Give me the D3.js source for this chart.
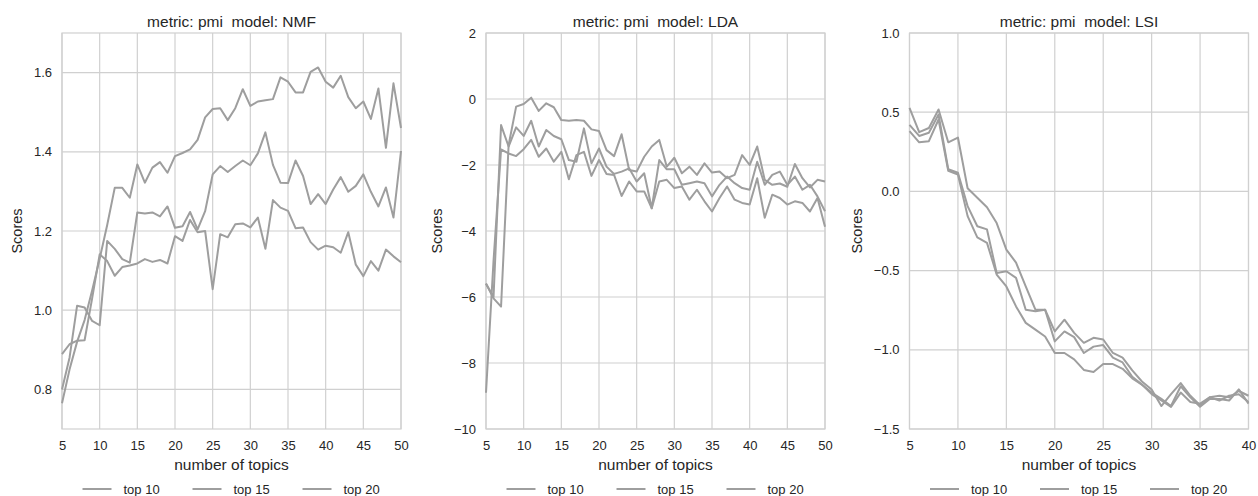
<!DOCTYPE html>
<html><head><meta charset="utf-8">
<script src="https://cdn.jsdelivr.net/npm/d3@7"></script>
<style>
body{margin:0;background:#fff}
svg{display:block}
text{font-family:"Liberation Sans",Arial,sans-serif;fill:#262626}
</style>
</head><body>
<svg id="chart" width="1258" height="496"></svg>
<script>
// ---------- data ----------
const topics50 = [5,6,7,8,9,10,11,12,13,14,15,16,17,18,19,20,21,22,23,24,25,26,27,28,29,30,31,32,33,34,35,36,37,38,39,40,41,42,43,44,45,46,47,48,49,50];
const topics40 = [5,6,7,8,9,10,11,12,13,14,15,16,17,18,19,20,21,22,23,24,25,26,27,28,29,30,31,32,33,34,35,36,37,38,39,40];
const seriesNames = ["top 10", "top 15", "top 20"];

const nmfTop10 = [0.765,0.85,0.92,0.975,1.05,1.13,1.215,1.309,1.309,1.284,1.368,1.322,1.36,1.374,1.347,1.389,1.397,1.406,1.43,1.487,1.508,1.51,1.48,1.51,1.558,1.516,1.527,1.53,1.533,1.588,1.577,1.55,1.55,1.602,1.613,1.577,1.562,1.592,1.538,1.51,1.527,1.483,1.56,1.41,1.573,1.46];
const nmfTop15 = [0.80,0.88,1.011,1.007,0.973,0.962,1.175,1.155,1.129,1.12,1.247,1.244,1.247,1.237,1.262,1.208,1.212,1.248,1.204,1.25,1.343,1.364,1.349,1.364,1.378,1.366,1.396,1.449,1.367,1.322,1.321,1.378,1.339,1.268,1.293,1.268,1.305,1.336,1.299,1.314,1.343,1.299,1.262,1.31,1.234,1.402];
const nmfTop20 = [0.889,0.914,0.923,0.924,1.03,1.141,1.124,1.087,1.109,1.113,1.118,1.129,1.122,1.127,1.118,1.187,1.175,1.228,1.197,1.2,1.053,1.192,1.184,1.217,1.219,1.209,1.234,1.155,1.278,1.259,1.251,1.207,1.209,1.172,1.153,1.163,1.159,1.145,1.197,1.115,1.086,1.124,1.1,1.153,1.136,1.121];

const ldaTop10 = [-5.59,-6.04,-6.29,-1.4,-0.23,-0.15,0.04,-0.36,-0.13,-0.25,-0.64,-0.66,-0.64,-0.66,-0.92,-0.97,-1.55,-1.73,-1.07,-2.15,-2.2,-1.75,-1.44,-1.24,-2.05,-1.78,-2.25,-2.05,-2.3,-1.95,-2.23,-2.2,-2.4,-2.3,-1.7,-2.0,-1.44,-2.45,-2.6,-2.56,-2.66,-1.97,-2.4,-2.68,-2.45,-2.5];
const ldaTop15 = [-5.6,-6.0,-0.79,-1.44,-0.86,-1.12,-0.66,-1.44,-0.94,-1.12,-1.22,-1.85,-1.9,-0.89,-1.95,-1.5,-2.05,-2.27,-2.2,-2.1,-2.5,-2.25,-3.31,-1.85,-2.13,-2.13,-2.6,-2.55,-2.5,-2.55,-2.95,-2.6,-2.35,-2.55,-2.7,-2.75,-1.9,-2.6,-2.3,-2.2,-2.6,-2.35,-2.75,-2.6,-2.95,-3.4];
const ldaTop20 = [-8.9,-4.9,-1.53,-1.65,-1.73,-1.52,-1.24,-1.75,-1.5,-1.9,-1.6,-2.43,-1.7,-1.6,-2.33,-1.85,-2.27,-2.3,-2.94,-2.5,-2.8,-2.8,-3.31,-2.5,-2.45,-2.7,-2.65,-3.05,-2.75,-3.1,-3.41,-3.0,-2.65,-3.05,-3.15,-3.2,-2.4,-3.6,-2.9,-3.0,-3.2,-3.1,-3.15,-3.41,-3.0,-3.87];

const lsiTop10 = [0.527,0.374,0.40,0.517,0.31,0.34,0.02,-0.04,-0.10,-0.2,-0.367,-0.45,-0.6,-0.747,-0.747,-0.884,-0.81,-0.893,-0.956,-0.924,-0.935,-1.02,-1.05,-1.13,-1.2,-1.25,-1.355,-1.28,-1.21,-1.29,-1.35,-1.30,-1.29,-1.3,-1.26,-1.29];
const lsiTop15 = [0.42,0.35,0.37,0.485,0.14,0.118,-0.093,-0.22,-0.24,-0.515,-0.504,-0.546,-0.747,-0.757,-0.747,-0.947,-0.884,-0.92,-1.02,-0.98,-0.97,-1.05,-1.08,-1.17,-1.22,-1.27,-1.31,-1.355,-1.23,-1.3,-1.36,-1.31,-1.31,-1.32,-1.25,-1.34];
const lsiTop20 = [0.38,0.31,0.317,0.454,0.13,0.107,-0.156,-0.29,-0.325,-0.525,-0.6,-0.726,-0.83,-0.873,-0.916,-1.02,-1.02,-1.06,-1.127,-1.14,-1.09,-1.09,-1.12,-1.18,-1.22,-1.28,-1.32,-1.36,-1.27,-1.33,-1.34,-1.3,-1.32,-1.29,-1.28,-1.33];

const xTicks50 = [5,10,15,20,25,30,35,40,45,50];
const xTicks40 = [5,10,15,20,25,30,35,40];
const yTicksNMF = [0.8,1.0,1.2,1.4,1.6];
const yTicksLDA = [-10,-8,-6,-4,-2,0,2];
const yTicksLSI = [-1.5,-1.0,-0.5,0.0,0.5,1.0];

const titles = ["metric: pmi  model: NMF", "metric: pmi  model: LDA", "metric: pmi  model: LSI"];

// ---------- layout ----------
const panels = [
  {title: titles[0], x: topics50, series: [nmfTop10, nmfTop15, nmfTop20], xDomain: [5,50], xTicks: xTicks50, yDomain: [0.7,1.7], yTicks: yTicksNMF, fmt: ".1f", left: 62},
  {title: titles[1], x: topics50, series: [ldaTop10, ldaTop15, ldaTop20], xDomain: [5,50], xTicks: xTicks50, yDomain: [-10,2], yTicks: yTicksLDA, fmt: "d", left: 486},
  {title: titles[2], x: topics40, series: [lsiTop10, lsiTop15, lsiTop20], xDomain: [5,40], xTicks: xTicks40, yDomain: [-1.5,1.0], yTicks: yTicksLSI, fmt: ".1f", left: 909.5}
];
const plotW = 339, plotTop = 33, plotBottom = 429;
const gridColor = "#d0d0d0", lineColor = "#9e9e9e";

const svg = d3.select("#chart");

panels.forEach(p => {
  const x = d3.scaleLinear().domain(p.xDomain).range([p.left, p.left + plotW]);
  const y = d3.scaleLinear().domain(p.yDomain).range([plotBottom, plotTop]);
  const g = svg.append("g");

  // grid
  g.append("g").selectAll("line").data(p.xTicks).join("line")
    .attr("x1", d => x(d)).attr("x2", d => x(d)).attr("y1", plotTop).attr("y2", plotBottom)
    .attr("stroke", gridColor).attr("stroke-width", 1.2);
  g.append("g").selectAll("line").data(p.yTicks).join("line")
    .attr("x1", p.left).attr("x2", p.left + plotW).attr("y1", d => y(d)).attr("y2", d => y(d))
    .attr("stroke", gridColor).attr("stroke-width", 1.2);
  // frame
  g.append("rect").attr("x", p.left).attr("y", plotTop).attr("width", plotW).attr("height", plotBottom - plotTop)
    .attr("fill", "none").attr("stroke", gridColor).attr("stroke-width", 1.2);

  // axes via d3 axis (no tick marks, no domain)
  const xa = g.append("g").attr("transform", `translate(0,${plotBottom})`)
    .call(d3.axisBottom(x).tickValues(p.xTicks).tickSize(0).tickPadding(12).tickFormat(d3.format("d")));
  xa.select(".domain").remove();
  xa.selectAll("text").attr("font-size", 13).attr("font-family", null).style("fill", "#262626");

  const ya = g.append("g").attr("transform", `translate(${p.left},0)`)
    .call(d3.axisLeft(y).tickValues(p.yTicks).tickSize(0).tickPadding(10).tickFormat(d3.format(p.fmt)));
  ya.select(".domain").remove();
  ya.selectAll("text").attr("font-size", 13).attr("font-family", null).style("fill", "#262626");

  // y label positioned left of the tick labels
  let maxW = 0;
  ya.selectAll("text").each(function(){ maxW = Math.max(maxW, this.getComputedTextLength()); });
  const lx = p.left - 10 - maxW - 17;
  g.append("text").attr("transform", `translate(${lx},${(plotTop+plotBottom)/2}) rotate(-90)`)
    .attr("text-anchor", "middle").attr("dominant-baseline", "central").attr("font-size", 14.5).text("Scores");

  // x label
  g.append("text").attr("x", p.left + plotW/2).attr("y", 470).attr("text-anchor", "middle")
    .attr("font-size", 15.5).text("number of topics");

  // title
  g.append("text").attr("x", p.left + plotW/2).attr("y", 27).attr("text-anchor", "middle")
    .attr("font-size", 15.5).style("white-space", "pre").attr("xml:space", "preserve").text(p.title);

  // lines
  const line = d3.line().x((d, i) => x(p.x[i])).y(d => y(d));
  g.append("g").selectAll("path").data(p.series).join("path")
    .attr("d", d => line(d)).attr("fill", "none").attr("stroke", lineColor)
    .attr("stroke-width", 2).attr("stroke-linejoin", "round");

  // legend
  const entryW = 110, lineLen = 29;
  const totalW = entryW * 2 + lineLen + 12 + 37;
  const lx0 = p.left + plotW/2 - totalW/2;
  const leg = g.append("g").selectAll("g").data(seriesNames).join("g")
    .attr("transform", (d, i) => `translate(${lx0 + i*entryW},489)`);
  leg.append("line").attr("x1", 0).attr("x2", lineLen).attr("y1", 0).attr("y2", 0)
    .attr("stroke", lineColor).attr("stroke-width", 2);
  leg.append("text").attr("x", lineLen + 12).attr("y", 0).attr("dominant-baseline", "central")
    .attr("font-size", 13).text(d => d);
});
</script>
</body></html>
